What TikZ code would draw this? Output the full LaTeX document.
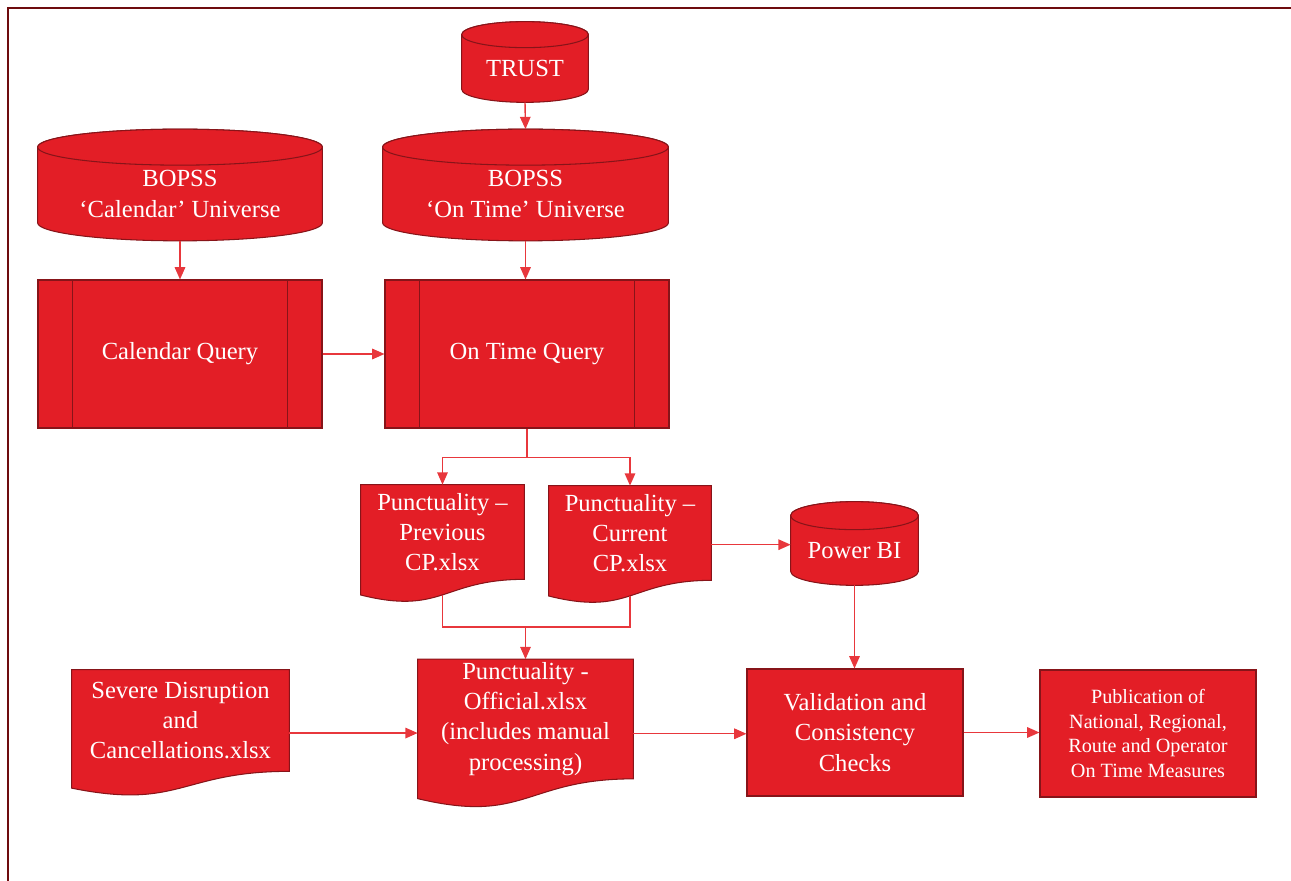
\documentclass[tikz,border=0pt]{standalone}
\usepackage{fontspec}
\setmainfont{Liberation Serif}
\usetikzlibrary{arrows.meta,calc,backgrounds}

\definecolor{boxred}{RGB}{227,30,38}
\definecolor{edgered}{RGB}{135,20,25}
\definecolor{linered}{RGB}{232,55,60}
\definecolor{framered}{RGB}{110,12,14}

\newcommand{\pxu}{0.02cm}

% cylinder round a body node: #1 node, #2 end radius in px
\newcommand{\dbshape}[2]{%
  \path[shapefill] let \p1=(#1.north west), \p2=(#1.south east), \n1={(\x2-\x1)/2}, \n2={#2*0.02cm} in
    (\x1,{\y1+\n2}) -- (\x1,\y2) arc[start angle=180, end angle=360, x radius=\n1, y radius=\n2]
    -- (\x2,{\y1+\n2}) arc[start angle=0, end angle=180, x radius=\n1, y radius=\n2] -- cycle
    ({\x1+\n1},{\y1+2*\n2}) coordinate (#1-top)
    ({\x1+\n1},{\y2-\n2}) coordinate (#1-bot);
  \path[shapefill] let \p1=(#1.north west), \p2=(#1.south east), \n1={(\x2-\x1)/2}, \n2={#2*0.02cm} in
    ({\x1+\n1},{\y1+\n2}) ellipse[x radius=\n1, y radius=\n2];
}
% document shape with wavy foot below the node
\newcommand{\docshape}[1]{%
  \path[shapefill] let \p1=(#1.north west), \p2=(#1.south east), \n1={\y1-\y2}, \n2={(\x1+\x2)/2} in
    (\x1,\y1) -- (\x2,\y1) -- (\x2,\y2)
    .. controls (\n2,\y2) and (\n2,{\y2-0.382*\n1}) .. (\x1,{\y2-0.165*\n1}) -- cycle
    (\n2,{\y2-0.164*\n1}) coordinate (#1-bot)
    (\x1,{\y1-0.6234*\n1}) coordinate (#1-w)
    (\x2,{\y1-0.6234*\n1}) coordinate (#1-e);
}
% side bars of a predefined process
\newcommand{\procbars}[1]{%
  \draw[edgered, line width=0.6pt] ($(#1.north west)+(35,0)$) -- ($(#1.south west)+(35,0)$)
    ($(#1.north east)+(-35,0)$) -- ($(#1.south east)+(-35,0)$);
}

\tikzset{
  flow/.style={draw=linered, line width=0.8pt, -{Triangle[length=7pt,width=6pt]}},
  link/.style={draw=linered, line width=0.8pt},
  shapefill/.style={fill=boxred, draw=edgered, line width=0.6pt},
  txt/.style={text=white, align=center, inner sep=0pt, font=\fontsize{14}{17.2}\selectfont},
  procbox/.style={txt, shapefill, minimum width=284*\pxu, minimum height=148*\pxu},
  rectbox/.style={txt, shapefill, minimum width=216*\pxu, minimum height=127*\pxu},
}

\begin{document}
\begin{tikzpicture}[x=\pxu, y=-\pxu]
\useasboundingbox (0,0) rectangle (1291,881);
\draw[framered, line width=1.3pt] (8,881) -- (8,8) -- (1291,8);

% databases
\node[txt, minimum width=126*\pxu, minimum height=41*\pxu] (trust) at (525,68.5) {TRUST};
\node[txt, minimum width=284*\pxu, minimum height=57*\pxu] (calu) at (180,194) {BOPSS\\‘Calendar’ Universe};
\node[txt, minimum width=285*\pxu, minimum height=57*\pxu] (otu) at (525.5,194) {BOPSS\\‘On Time’ Universe};
\node[txt, minimum width=127*\pxu, minimum height=41*\pxu] (pbi) at (854.5,550.5) {Power BI};

% queries
\node[procbox] (calq) at (180,354) {Calendar Query};
\node[procbox] (otq) at (527,354) {On Time Query};
\procbars{calq}
\procbars{otq}

% spreadsheets
\node[txt, minimum width=163*\pxu, minimum height=94*\pxu] (prev) at (442.5,532) {Punctuality –\\Previous\\CP.xlsx};
\node[txt, minimum width=162*\pxu, minimum height=94*\pxu] (curr) at (630,533) {Punctuality –\\Current\\CP.xlsx};
\node[txt, minimum width=217*\pxu, minimum height=101*\pxu] (sev) at (180.5,720.5) {Severe Disruption\\and\\Cancellations.xlsx};
\node[txt, minimum width=215*\pxu, minimum height=119*\pxu] (offic) at (525.5,719) {Punctuality -\\Official.xlsx\\(includes manual\\processing)};

% checks and output
\node[rectbox] (valid) at (855,732.5) {Validation and\\Consistency\\Checks};
\node[rectbox, font=\fontsize{11.5}{14.2}\selectfont] (pub) at (1148,733.5) {Publication of\\National, Regional,\\Route and Operator\\On Time Measures};

\begin{scope}[on background layer]
\dbshape{trust}{13}
\dbshape{calu}{18}
\dbshape{otu}{18}
\dbshape{pbi}{14}
\docshape{prev}
\docshape{curr}
\docshape{sev}
\docshape{offic}
\end{scope}

\draw[flow] (trust-bot) -- (otu-top);
\draw[flow] (calu-bot) -- (calq.north);
\draw[flow] (otu-bot) -- (otu-bot |- otq.north);
\draw[flow] (calq) -- (otq);
\draw[link] (otq.south) -- ++(0,29) coordinate (split);
\draw[flow] (split) -| (prev.north);
\draw[flow] (split) -| (curr.north);
\draw[flow] (curr-e) -- (curr-e -| pbi.west);
\draw[link] (prev-bot) -- ++(0,32) coordinate (merge) -| (curr-bot);
\draw[flow] (merge -| offic.north) -- (offic.north);
\draw[flow] (pbi-bot) -- (pbi-bot |- valid.north);
\draw[flow] (sev-e) -- (sev-e -| offic-w);
\draw[flow] (offic-e) -- (offic-e -| valid.west);
\draw[flow] (valid.east) -- (valid.east -| pub.west);

\end{tikzpicture}
\end{document}
